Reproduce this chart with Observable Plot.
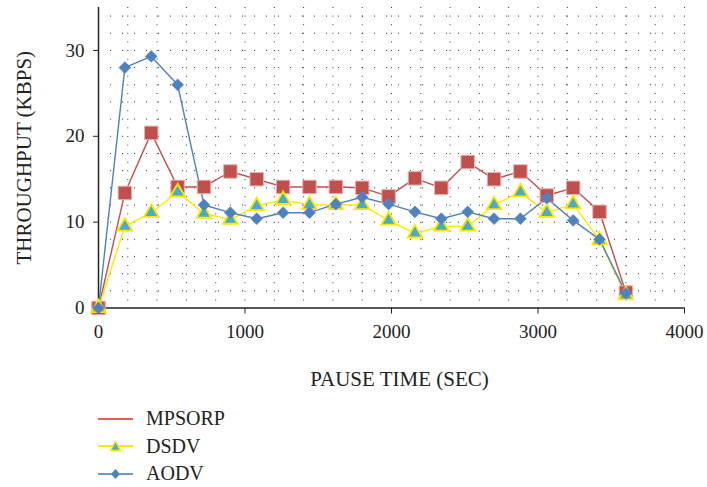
<!DOCTYPE html>
<html>
<head>
<meta charset="utf-8">
<script src="https://cdn.jsdelivr.net/npm/d3@7"></script>
<script src="https://cdn.jsdelivr.net/npm/@observablehq/plot@0.6"></script>
<style>
  html, body { margin: 0; padding: 0; background: #fff; }
  #chart svg { display: block; }
  .legend { font-family: "Liberation Serif", "Times New Roman", serif; font-size: 20px; color: #222; padding-top: 5px; }
  .legend .row { display: flex; align-items: center; height: 27.5px; }
  .legend svg { margin-left: 98px; margin-right: 13px; display: block; }
</style>
</head>
<body>
<div id="chart"></div>
<div class="legend" id="legend"></div>
<script>
const pauseTime = [0,180,360,540,720,900,1080,1260,1440,1620,1800,1980,2160,2340,2520,2700,2880,3060,3240,3420,3600];
const mpsorp = [0,13.4,20.4,14.1,14.1,15.9,15.0,14.1,14.1,14.1,14.0,13.0,15.1,14.0,17.0,15.0,15.9,13.1,14.0,11.2,1.8];
const dsdv   = [0,9.5,11.1,13.5,11.0,10.3,11.9,12.6,12.0,12.0,12.0,10.2,8.7,9.5,9.5,12.0,13.5,11.1,12.1,7.9,1.5];
const aodv   = [0,28.0,29.3,26.0,12.0,11.1,10.4,11.1,11.1,12.1,12.9,12.1,11.2,10.4,11.2,10.4,10.4,12.8,10.2,8.0,1.7];
const seriesNames = ["MPSORP", "DSDV", "AODV"];
const xTicks = [0,1000,2000,3000,4000];
const yTicks = [0,10,20,30];
const xLabel = "PAUSE TIME (SEC)";
const yLabel = "THROUGHPUT (KBPS)";

const rows = (vals) => pauseTime.map((t, i) => ({t, v: vals[i]}));
const dM = rows(mpsorp), dD = rows(dsdv), dA = rows(aodv);
const font = "Liberation Serif, Times New Roman, serif";

const chart = Plot.plot({
  width: 707,
  height: 400,
  marginLeft: 98,
  marginRight: 23,
  marginTop: 7,
  marginBottom: 92.5,
  style: {fontFamily: font, fontSize: "19px", color: "#222", background: "#fff"},
  x: {domain: [0, 4000]},
  y: {domain: [0, 35]},
  marks: [
    Plot.gridY(d3.range(2, 35, 2), {stroke: "#000", strokeOpacity: 0.8, strokeDasharray: "1,11"}),
    Plot.gridX(d3.range(200, 4001, 200), {stroke: "#000", strokeOpacity: 0.8, strokeDasharray: "1,7.6"}),
    Plot.axisY(yTicks, {tickSize: 5, tickPadding: 9, tickFormat: d => String(d), label: yLabel, labelArrow: "none", labelAnchor: "center", labelOffset: 82, fontSize: 19, fontFamily: font}),
    Plot.axisX(xTicks, {tickSize: 6, tickPadding: 10, tickFormat: d => String(d), label: xLabel, labelArrow: "none", labelAnchor: "center", labelOffset: 78, fontSize: 19, fontFamily: font}),
    Plot.ruleX([0], {stroke: "#222", strokeWidth: 1.5}),
    Plot.ruleY([0], {stroke: "#222", strokeWidth: 1.5}),
    Plot.line(dM, {x: "t", y: "v", stroke: "#C0504D", strokeWidth: 1.4}),
    Plot.line(dD, {x: "t", y: "v", stroke: "#FFE800", strokeWidth: 1.4}),
    Plot.line(dA, {x: "t", y: "v", stroke: "#4F81BD", strokeWidth: 1.4}),
    Plot.dot(dM, {x: "t", y: "v", symbol: "square", r: 7.6, fill: "#C0504D", stroke: "#E6B0AE", strokeWidth: 1}),
    Plot.dot(dD, {x: "t", y: "v", symbol: "triangle", r: 5.4, fill: "#4BACC6", stroke: "#FFE800", strokeWidth: 1.8}),
    Plot.dot(dA, {x: "t", y: "v", symbol: "diamond2", r: 5.3, fill: "#4F81BD", stroke: "#5B8CC6", strokeWidth: 0.8})
  ]
});
document.getElementById("chart").appendChild(chart);

// axis titles are a little larger than tick labels in the reference
chart.querySelectorAll('g[aria-label="y-axis label"], g[aria-label="x-axis label"]').forEach(g => {
  g.setAttribute("font-size", "21");
  g.style.fontSize = "21px";
  g.querySelectorAll("text").forEach(t => { t.style.fontSize = "21px"; });
});
const xl = chart.querySelector('g[aria-label="x-axis label"]');
if (xl) xl.setAttribute("transform", "translate(8,0) " + (xl.getAttribute("transform") || ""));

// legend
const legendSpec = [
  {name: seriesNames[0], stroke: "#E0605A", marker: null},
  {name: seriesNames[1], stroke: "#FFE800", marker: "tri"},
  {name: seriesNames[2], stroke: "#6F98CC", marker: "dia"}
];
const leg = document.getElementById("legend");
legendSpec.forEach(s => {
  const row = document.createElement("div");
  row.className = "row";
  let m = "";
  if (s.marker === "tri") m = `<path d="M17.5,3.5 L22.5,12.5 L12.5,12.5 Z" fill="#4BACC6" stroke="#FFE800" stroke-width="1.5"/>`;
  if (s.marker === "dia") m = `<path d="M17.5,3 L22,8 L17.5,13 L13,8 Z" fill="#4F81BD"/>`;
  row.innerHTML = `<svg width="35" height="16"><line x1="0" x2="35" y1="8" y2="8" stroke="${s.stroke}" stroke-width="2"/>${m}</svg><span>${s.name}</span>`;
  leg.appendChild(row);
});
</script>
</body>
</html>
